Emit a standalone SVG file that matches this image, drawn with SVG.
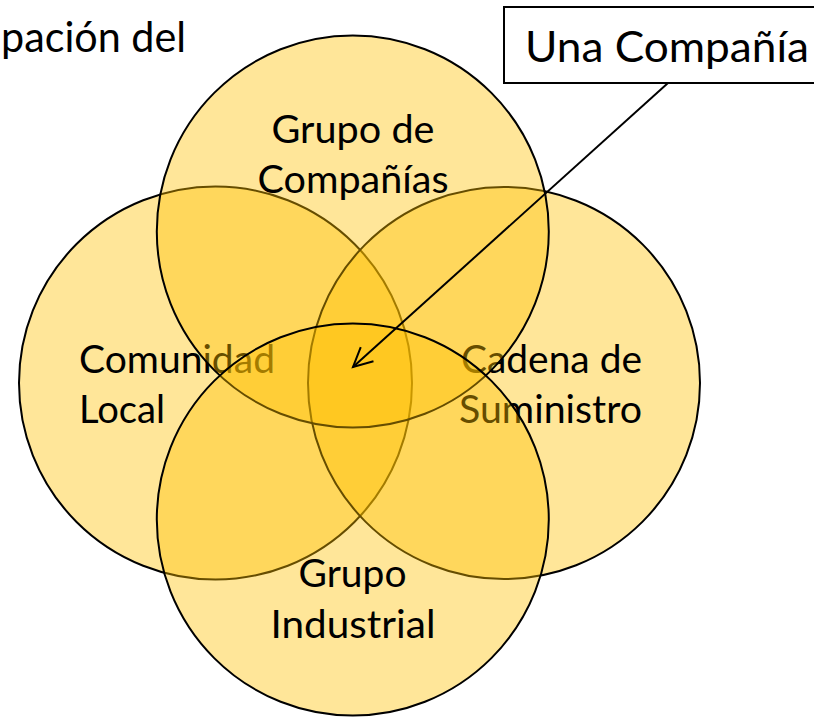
<svg xmlns="http://www.w3.org/2000/svg" width="814" height="717" viewBox="0 0 814 717">
  <style>
    .c { fill: #FFC000; fill-opacity: 0.4; stroke: #000; stroke-width: 2; }
    .t { font-family: Lato, "Open Sans", "Liberation Sans", sans-serif; font-size: 38px; fill: #000; }
    .tb { font-family: Lato, "Open Sans", "Liberation Sans", sans-serif; font-size: 42px; fill: #000; }
    .conn { stroke: #000; stroke-width: 2; fill: none; }
  </style>
  <defs>
    <marker id="arrow" markerUnits="userSpaceOnUse" viewBox="-22 -12 24 24" refX="0" refY="0" markerWidth="24" markerHeight="24" orient="auto" overflow="visible">
      <path d="M-19,-9.5 L0,0 L-19,9.5" fill="none" stroke="#000" stroke-width="2"/>
    </marker>
  </defs>
  <rect width="814" height="717" fill="#fff"/>
  <text class="tb" x="186" y="52" text-anchor="end" textLength="185" lengthAdjust="spacingAndGlyphs">pación del</text>

  <g id="comunidad-local">
    <circle class="c" cx="215.5" cy="383" r="196.5"/>
    <text class="t" x="79" y="373" textLength="196" lengthAdjust="spacingAndGlyphs">Comunidad</text>
    <text class="t" x="79" y="423" textLength="86" lengthAdjust="spacingAndGlyphs">Local</text>
  </g>
  <g id="cadena-de-suministro">
    <circle class="c" cx="504" cy="383" r="196"/>
    <text class="t" x="461" y="373" textLength="181" lengthAdjust="spacingAndGlyphs">Cadena de</text>
    <text class="t" x="459" y="423" textLength="183" lengthAdjust="spacingAndGlyphs">Suministro</text>
  </g>
  <g id="grupo-de-companias">
    <circle class="c" cx="352.8" cy="231.5" r="196"/>
    <text class="t" x="353" y="143" text-anchor="middle" textLength="163" lengthAdjust="spacingAndGlyphs">Grupo de</text>
    <text class="t" x="353" y="193" text-anchor="middle" textLength="191" lengthAdjust="spacingAndGlyphs">Compañías</text>
  </g>
  <g id="grupo-industrial">
    <circle class="c" cx="352.8" cy="519.5" r="196"/>
    <text class="t" x="352.5" y="587" text-anchor="middle" textLength="108" lengthAdjust="spacingAndGlyphs">Grupo</text>
    <text class="t" x="353" y="638" text-anchor="middle" textLength="165" lengthAdjust="spacingAndGlyphs">Industrial</text>
  </g>
  <g id="una-compania">
    <rect x="504" y="7" width="320" height="76" fill="#fff" stroke="#000" stroke-width="2"/>
    <text class="tb" x="525" y="62" textLength="284" lengthAdjust="spacingAndGlyphs">Una Compañía</text>
  </g>
  <g id="connectors">
    <line class="conn" x1="668" y1="83" x2="353" y2="367" marker-end="url(#arrow)"/>
  </g>
</svg>
